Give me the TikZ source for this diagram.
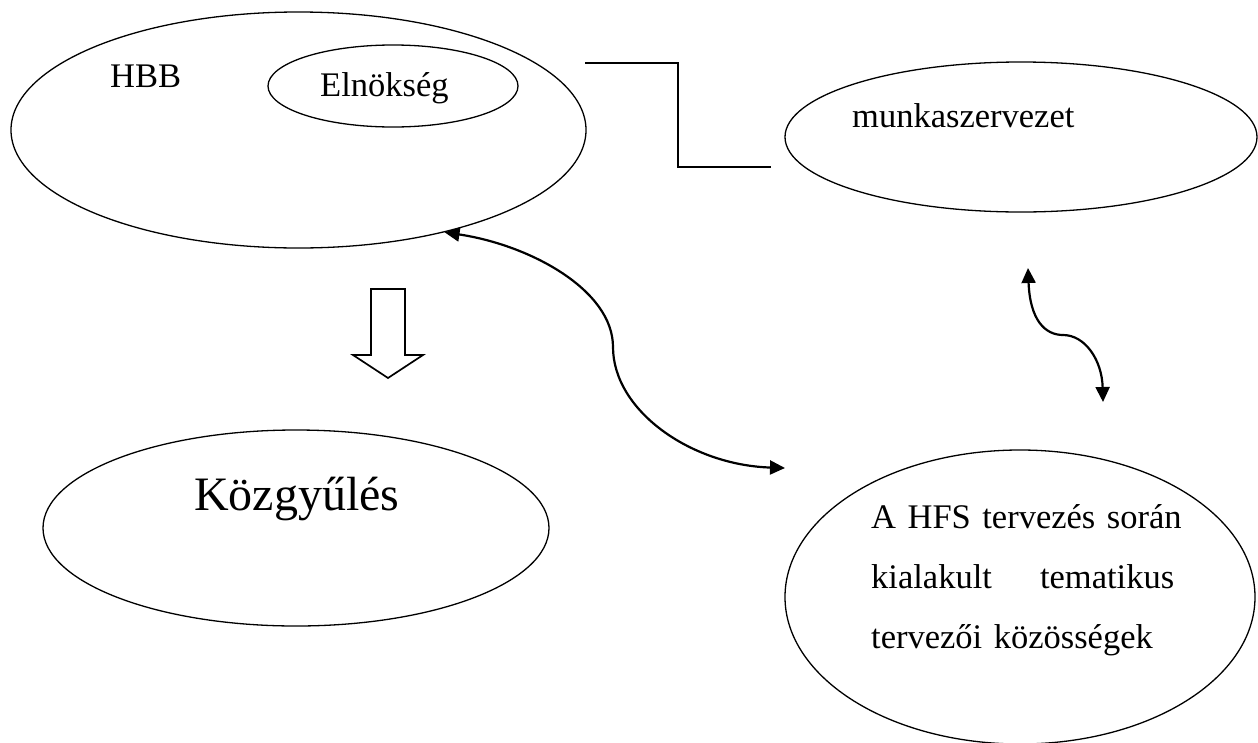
\documentclass[tikz,border=0pt]{standalone}
\usepackage{fontspec}
\setmainfont{Liberation Serif}
\usetikzlibrary{shapes}
\usetikzlibrary{arrows.meta}

\begin{document}
\begin{tikzpicture}[x=1pt,y=-1pt]
	\tikzstyle{blob}=[ellipse,draw,line width=1.3pt,inner sep=0pt]
	\tikzstyle{lbl}=[anchor=base west,inner sep=0pt,font=\fontsize{34.5}{60}\selectfont]
	\tikzstyle{wire}=[line width=1.7pt]
	\tikzstyle{link}=[line width=2.2pt,{Triangle[length=15pt,width=14pt]}-{Triangle[length=15pt,width=14pt]}]
	\useasboundingbox (0,0) rectangle (1258,742);
	% ellipses
	\node[blob,minimum width=575pt,minimum height=236pt] (hbb) at (298.5,130) {};
	\node[blob,minimum width=250pt,minimum height=82pt] (elnok) at (393,86) {};
	\node[blob,minimum width=472pt,minimum height=150pt] (munka) at (1021,137) {};
	\node[blob,minimum width=506pt,minimum height=196pt] (kozgy) at (296,528) {};
	\node[blob,minimum width=470pt,minimum height=294pt] (hfs) at (1020,597) {};
	% texts
	\node[lbl] (thbb) at (110,87) {HBB};
	\node[lbl] (telnok) at (320,96) {Elnökség};
	\node[lbl] (tmunka) at (852,127) {munkaszervezet};
	\node[lbl,font=\fontsize{48}{56}\selectfont] (tkozgy) at (194,510) {Közgyűlés};
	\node[lbl,text width=330pt,align=left] (thfs) at (871,528)
		{A HFS tervezés során\\
		 \makebox[303pt][l]{kialakult\hfill tematikus}\\
		 tervezői közösségek};
	% connectors
	\coordinate (w1) at (585,63);
	\coordinate (w2) at (771,167);
	\draw[wire] (w1) -- ++(93,0) |- (w2);
	\draw[wire,line join=miter] (371,289) -- (405,289) -- (405,355) -- (423,355) -- (388,378)
		-- (353,355) -- (371,355) -- cycle;
	\coordinate (hfsin) at (785,468);
	\draw[link] (hbb.-35) .. controls (530,245) and (613,290) .. (613,347)
		.. controls (613,410) and (690,465) .. (hfsin);
	\coordinate (up) at (1028,268);
	\coordinate (dn) at (1103,402);
	\draw[link] (up) .. controls (1030,320) and (1045,335) .. (1063,335)
		.. controls (1085,335) and (1102,360) .. (dn);
\end{tikzpicture}
\end{document}
